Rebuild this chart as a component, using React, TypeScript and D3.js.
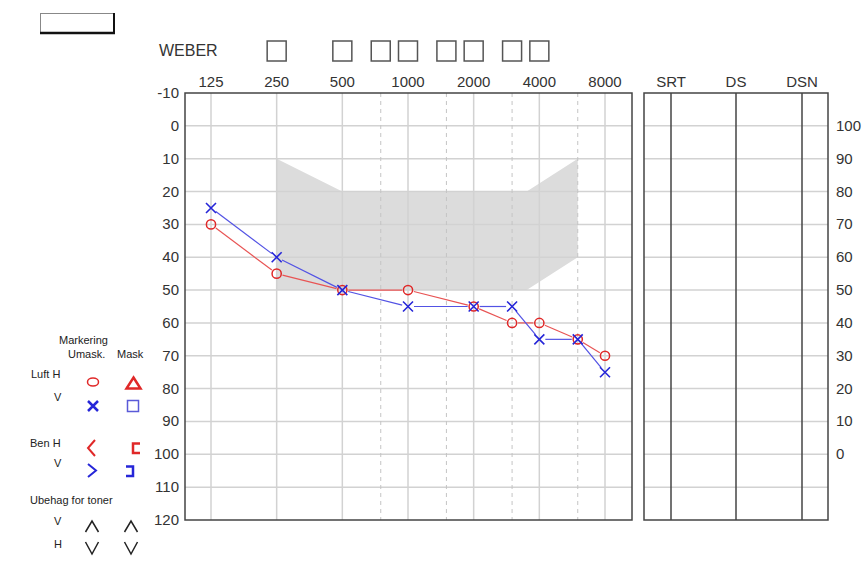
import React from 'react';
import * as d3 from 'd3';

// ---- data ----
const octaveFreqs = [125, 250, 500, 1000, 2000, 4000, 8000];
const halfOctaveFreqs = [750, 1500, 3000, 6000];
const weberFreqs = [250, 500, 750, 1000, 1500, 2000, 3000, 4000];
const dbTicks = [-10, 0, 10, 20, 30, 40, 50, 60, 70, 80, 90, 100, 110, 120];
const gridDb = [0, 10, 20, 30, 40, 50, 60, 70, 80, 90, 100, 110];
const rightTicks = [100, 90, 80, 70, 60, 50, 40, 30, 20, 10, 0];
const speechCols = ['SRT', 'DS', 'DSN'];

const testFreqs = [125, 250, 500, 1000, 2000, 3000, 4000, 6000, 8000];
const rightAir = [30, 45, 50, 50, 55, 60, 60, 65, 70];
const leftAir = [25, 40, 50, 55, 55, 55, 65, 65, 75];

const bananaTop: [number, number][] = [[250, 10], [500, 20], [3500, 20], [6000, 10]];
const bananaBottom: [number, number][] = [[6000, 40], [3500, 50], [250, 50]];

// ---- layout ----
const W = 862, H = 567;
const plotL = 185, plotR = 632, plotT = 93, plotB = 520;
const spL = 644, spR = 828;
const spLines = [671, 736, 802];

const x = d3.scaleLog().base(2).domain([125, 8000]).range([211, 605]);
const y = d3.scaleLinear().domain([-10, 120]).range([plotT, plotB]);
const yR = d3.scaleLinear().domain([100, 0]).range([y(0), y(100)]);

const FONT = '"Liberation Sans", Arial, Helvetica, sans-serif';
const RED = '#e02828';
const BLUE = '#2626d8';
const RED_LINE = '#e85454';
const BLUE_LINE = '#5252e4';
const GRID = '#d2d2d2';
const BORDER = '#444';

function trimmedSegments(pts: [number, number][], gap: number) {
  const segs: [number, number, number, number][] = [];
  for (let i = 0; i < pts.length - 1; i++) {
    const [x1, y1] = pts[i];
    const [x2, y2] = pts[i + 1];
    const dx = x2 - x1, dy = y2 - y1;
    const len = Math.hypot(dx, dy);
    if (len <= gap * 2) continue;
    const ux = dx / len, uy = dy / len;
    segs.push([x1 + ux * gap, y1 + uy * gap, x2 - ux * gap, y2 - uy * gap]);
  }
  return segs;
}

export default function App() {
  const redPts = testFreqs.map((f, i) => [x(f), y(rightAir[i])] as [number, number]);
  const bluePts = testFreqs.map((f, i) => [x(f), y(leftAir[i])] as [number, number]);
  const bananaPts = [...bananaTop, ...bananaBottom].map(([f, d]) => [x(f), y(d)] as [number, number]);
  const bananaPath = d3.line()(bananaPts) + 'Z';

  const txt = { fontFamily: FONT, fill: '#222' } as const;

  return (
    <svg width={W} height={H} style={{ position: 'absolute', left: 0, top: 0, background: '#fff' }}>
      {/* top-left box */}
      <rect x={40.5} y={13.5} width={73} height={20} fill="#fff" stroke="#888" strokeWidth={1} />
      <line x1={40} y1={33} x2={115} y2={33} stroke="#111" strokeWidth={2.5} />
      <line x1={114} y1={13} x2={114} y2={34} stroke="#111" strokeWidth={2} />

      {/* WEBER */}
      <text x={159} y={56} fontSize={16} {...txt} fill="#333">WEBER</text>
      {weberFreqs.map((f) => (
        <rect key={f} x={x(f) - 9.5} y={41} width={19} height={20} fill="none" stroke="#555" strokeWidth={1.5} />
      ))}

      {/* banana */}
      <path d={bananaPath} fill="#dcdcdc" />

      {/* grid */}
      {gridDb.map((d) => (
        <line key={'h' + d} x1={plotL} x2={plotR} y1={y(d)} y2={y(d)} stroke={GRID} strokeWidth={1.5} />
      ))}
      {octaveFreqs.map((f) => (
        <line key={'v' + f} x1={x(f)} x2={x(f)} y1={plotT} y2={plotB} stroke={GRID} strokeWidth={1.5} />
      ))}
      {halfOctaveFreqs.map((f) => (
        <line key={'d' + f} x1={x(f)} x2={x(f)} y1={plotT} y2={plotB} stroke="#c4c4c4" strokeWidth={1} strokeDasharray="4,4" />
      ))}

      {/* plot border */}
      <rect x={plotL} y={plotT} width={plotR - plotL} height={plotB - plotT} fill="none" stroke={BORDER} strokeWidth={1.5} />

      {/* frequency labels */}
      {octaveFreqs.map((f) => (
        <text key={'fl' + f} x={x(f)} y={87} fontSize={15} textAnchor="middle" {...txt} fill="#333">{f}</text>
      ))}
      {/* dB labels */}
      {dbTicks.map((d) => (
        <text key={'dl' + d} x={179} y={y(d) + 5} fontSize={15} textAnchor="end" {...txt} fill="#333">{d}</text>
      ))}

      {/* speech panel */}
      {gridDb.map((d) => (
        <line key={'sh' + d} x1={spL} x2={spR} y1={y(d)} y2={y(d)} stroke={GRID} strokeWidth={1.5} />
      ))}
      <rect x={spL} y={plotT} width={spR - spL} height={plotB - plotT} fill="none" stroke={BORDER} strokeWidth={1.5} />
      {spLines.map((lx, i) => (
        <g key={'sp' + i}>
          <line x1={lx} x2={lx} y1={plotT} y2={plotB} stroke={BORDER} strokeWidth={1.5} />
          <text x={lx} y={87} fontSize={15} textAnchor="middle" {...txt} fill="#333">{speechCols[i]}</text>
        </g>
      ))}
      {rightTicks.map((t) => (
        <text key={'rt' + t} x={836} y={yR(t) + 5} fontSize={15} {...txt} fill="#333">{t}</text>
      ))}

      {/* lines */}
      {trimmedSegments(redPts, 6).map((s, i) => (
        <line key={'rs' + i} x1={s[0]} y1={s[1]} x2={s[2]} y2={s[3]} stroke={RED_LINE} strokeWidth={1.2} />
      ))}
      {trimmedSegments(bluePts, 6).map((s, i) => (
        <line key={'bs' + i} x1={s[0]} y1={s[1]} x2={s[2]} y2={s[3]} stroke={BLUE_LINE} strokeWidth={1.2} />
      ))}

      {/* markers */}
      {redPts.map(([px, py], i) => (
        <circle key={'rc' + i} cx={px} cy={py} r={4.6} fill="none" stroke={RED} strokeWidth={1.5} />
      ))}
      {bluePts.map(([px, py], i) => (
        <path key={'bx' + i} d={`M${px - 5},${py - 5}L${px + 5},${py + 5}M${px + 5},${py - 5}L${px - 5},${py + 5}`} stroke={BLUE} strokeWidth={1.6} fill="none" />
      ))}

      {/* legend */}
      <g fontSize={11} fontFamily={FONT} fill="#222">
        <text x={59} y={344}>Markering</text>
        <text x={68} y={358}>Umask.</text>
        <text x={117} y={358}>Mask</text>
        <text x={31} y={378}>Luft H</text>
        <text x={54} y={401}>V</text>
        <text x={30} y={447}>Ben H</text>
        <text x={54} y={467}>V</text>
        <text x={30} y={504}>Ubehag for toner</text>
        <text x={54} y={525}>V</text>
        <text x={54} y={548}>H</text>
      </g>
      <ellipse cx={93} cy={382} rx={5.5} ry={4} fill="none" stroke={RED} strokeWidth={1.5} />
      <path d="M133.5,377.5L140.5,388.5L126.5,388.5Z" fill="none" stroke={RED} strokeWidth={2.5} strokeLinejoin="miter" />
      <path d="M88,401L98,411M98,401L88,411" stroke={BLUE} strokeWidth={2.5} fill="none" />
      <rect x={127.5} y={400.5} width={11} height={11} fill="none" stroke="#5a5ad8" strokeWidth={1.5} />
      <path d="M95,440L88,448L95,456" stroke={RED} strokeWidth={2} fill="none" />
      <path d="M140,443.5L133,443.5L133,453L140,453" stroke={RED} strokeWidth={2.5} fill="none" />
      <path d="M88,464L96,470.5L88,477" stroke={BLUE} strokeWidth={2} fill="none" />
      <path d="M126,466.5L133,466.5L133,476L126,476" stroke={BLUE} strokeWidth={2.5} fill="none" />
      <path d="M85.5,532L92,521L98.5,532" stroke="#222" strokeWidth={1.5} fill="none" />
      <path d="M124.5,532L131,521L137.5,532" stroke="#222" strokeWidth={1.5} fill="none" />
      <path d="M85.5,542L92,554L98.5,542" stroke="#222" strokeWidth={1.5} fill="none" />
      <path d="M124.5,542L131,554L137.5,542" stroke="#222" strokeWidth={1.5} fill="none" />
    </svg>
  );
}
